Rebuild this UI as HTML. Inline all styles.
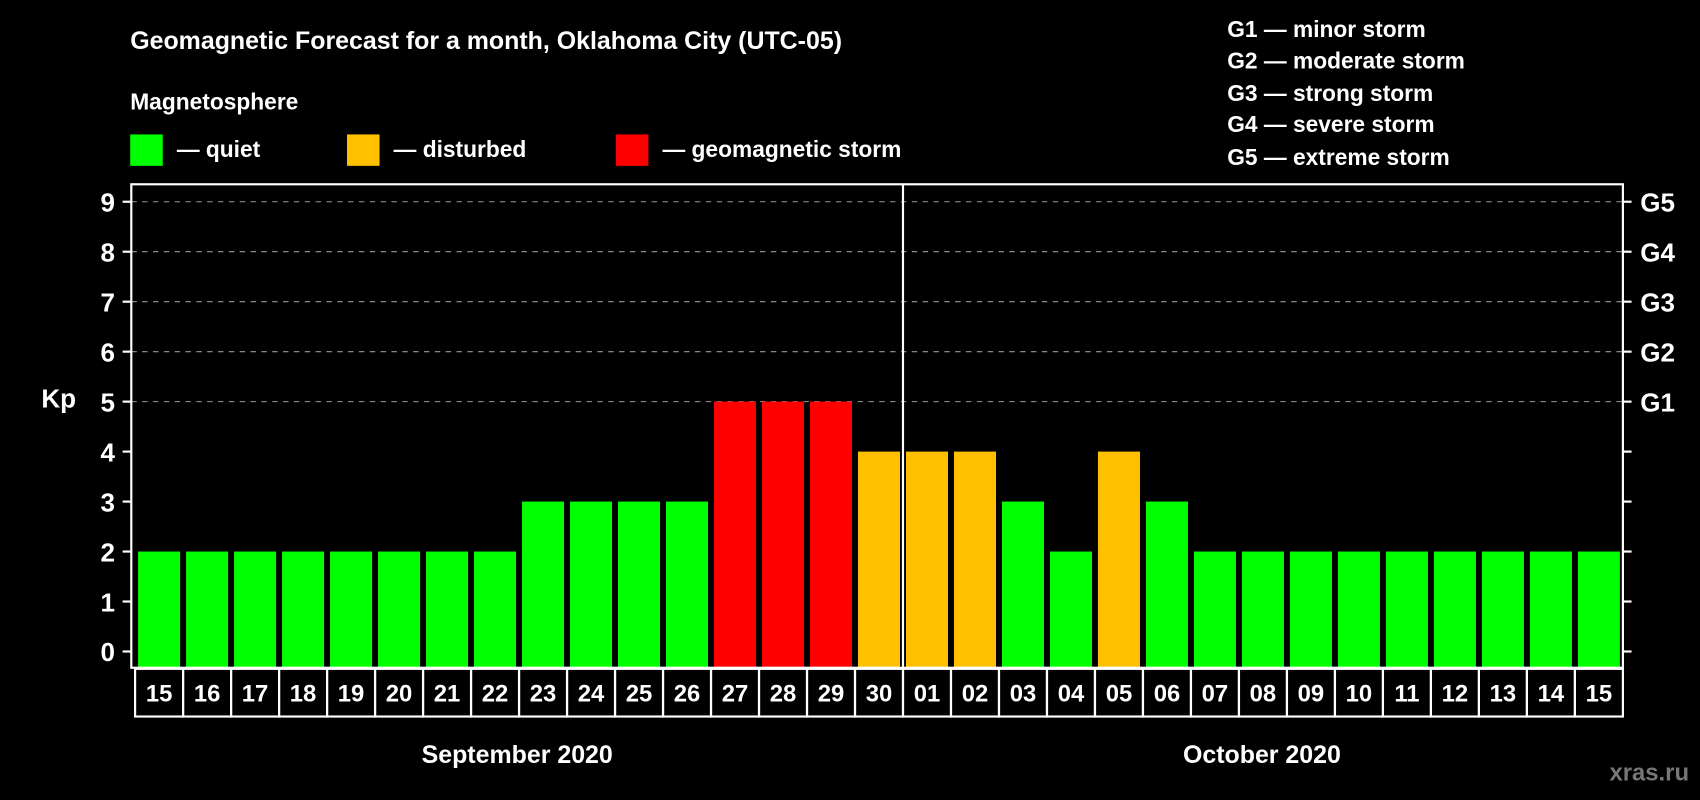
<!DOCTYPE html>
<html><head><meta charset="utf-8"><style>
html,body{margin:0;padding:0;background:#000;width:1700px;height:800px;overflow:hidden}
svg{display:block;font-family:"Liberation Sans",sans-serif;font-weight:bold}
</style></head><body>
<svg id="chart" width="1700" height="800" viewBox="0 0 1568 738" xmlns="http://www.w3.org/2000/svg">
<rect width="1568" height="738" fill="#000"/>
<text x="120" y="45" fill="#fff" font-size="23">Geomagnetic Forecast for a month, Oklahoma City (UTC-05)</text>
<text x="120" y="101" fill="#fff" font-size="21">Magnetosphere</text>
<g><rect x="120" y="124" width="30" height="29" fill="#00ff00"/><text x="163" y="145" fill="#fff" font-size="21">— quiet</text></g>
<g><rect x="320" y="124" width="30" height="29" fill="#ffc000"/><text x="363" y="145" fill="#fff" font-size="21">— disturbed</text></g>
<g><rect x="568" y="124" width="30" height="29" fill="#ff0000"/><text x="611" y="145" fill="#fff" font-size="21">— geomagnetic storm</text></g>
<g fill="#fff" font-size="21">
<text x="1132" y="34">G1 — minor storm</text>
<text x="1132" y="63">G2 — moderate storm</text>
<text x="1132" y="93">G3 — strong storm</text>
<text x="1132" y="122">G4 — severe storm</text>
<text x="1132" y="152">G5 — extreme storm</text>
</g>
<text x="38" y="376" fill="#fff" font-size="24">Kp</text>
<g id="grid"></g>
<g id="bars"></g>
<g id="axes"></g>
<text x="477" y="704" fill="#fff" font-size="23" text-anchor="middle">September 2020</text>
<text x="1164" y="704" fill="#fff" font-size="23" text-anchor="middle">October 2020</text>
<text x="1558" y="720" fill="#777" font-size="22" text-anchor="end">xras.ru</text>
</svg>
<script>
const days = ["15","16","17","18","19","20","21","22","23","24","25","26","27","28","29","30","01","02","03","04","05","06","07","08","09","10","11","12","13","14","15"];
const kpValues = [2,2,2,2,2,2,2,2,3,3,3,3,5,5,5,4,4,4,3,2,4,3,2,2,2,2,2,2,2,2,2];
const yTicks = [0,1,2,3,4,5,6,7,8,9];
const gLabels = ["G1","G2","G3","G4","G5"];
const NS="http://www.w3.org/2000/svg";
const L=121,R=1497,T=170,B=616,boxL=124.5,boxR=1497;
const y=v=>601-46.1*v;
const cellW=(boxR-boxL)/days.length;
const xc=i=>boxL+cellW*(i+0.5);
function mk(tag,attrs,parent){const e=document.createElementNS(NS,tag);for(const k in attrs)e.setAttribute(k,attrs[k]);parent.appendChild(e);return e;}
const grid=document.getElementById('grid'),bars=document.getElementById('bars'),axes=document.getElementById('axes');
yTicks.forEach(v=>{
  if(v>=5){const g=mk('line',{x1:L,x2:R,y1:y(v),y2:y(v),stroke:'#999','stroke-dasharray':'5,5','stroke-width':1},grid);
  
  }
  const t=mk('line',{x1:L-8,x2:L,y1:y(v),y2:y(v),stroke:'#fff','stroke-width':2},axes);
  
  
  const t2=mk('line',{x1:R,x2:R+8,y1:y(v),y2:y(v),stroke:'#fff','stroke-width':2},axes);
  
  
  const lb=mk('text',{x:L-15,y:y(v)+9,fill:'#fff','font-size':24,'text-anchor':'end'},axes);
  lb.textContent=v;
  
  
});
gLabels.forEach((g,i)=>{
  const lb=mk('text',{x:R+16,y:y(5+i)+9,fill:'#fff','font-size':24},axes);
  lb.textContent=g;
  
  
});
const color=v=>v>=5?'#ff0000':(v>=4?'#ffc000':'#00ff00');
kpValues.forEach((v,i)=>{
  const bw=cellW-5.5;
  const r=mk('rect',{x:xc(i)-bw/2,y:y(v),width:bw,height:B-y(v),fill:color(v)},bars);
  
  
});
mk('rect',{x:L,y:T,width:R-L,height:B-T,fill:'none',stroke:'#fff','stroke-width':2},axes);
const div=mk('line',{x1:boxL+cellW*16,x2:boxL+cellW*16,y1:T,y2:B,stroke:'#fff','stroke-width':2},axes);


days.forEach((d,i)=>{
  const c=mk('rect',{x:boxL+cellW*i,y:617,width:cellW,height:44,fill:'none',stroke:'#fff','stroke-width':2},axes);
  
  
  const t=mk('text',{x:xc(i),y:647,fill:'#fff','font-size':22,'text-anchor':'middle'},axes);
  t.textContent=d;
  
  
});
</script>
</body></html>
